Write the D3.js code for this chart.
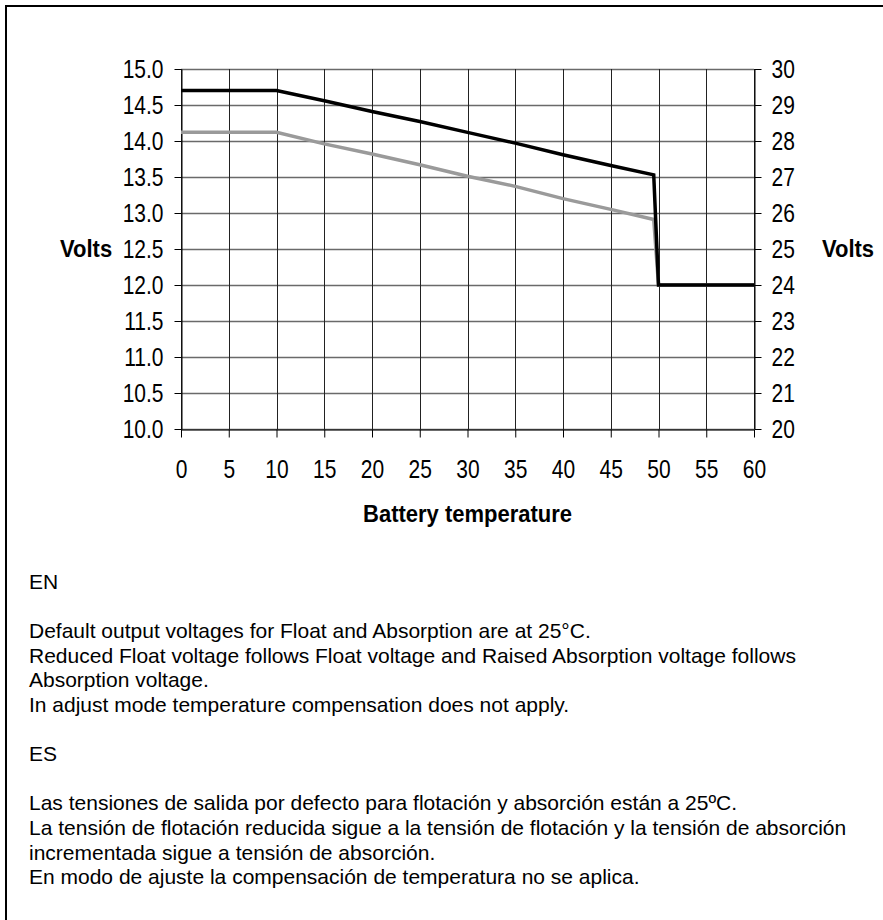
<!DOCTYPE html>
<html>
<head>
<meta charset="utf-8">
<script src="https://cdn.jsdelivr.net/npm/d3@7"></script>
<style>
  body { margin: 0; background: #fff; }
  svg { display: block; font-family: "Liberation Sans", Arial, sans-serif; }
</style>
</head>
<body>
<script>
// Battery temperature (°C) and charge voltages
const absorptionTemps = [0, 5, 10, 15, 20, 25, 30, 35, 40, 45, 49.5, 50, 55, 60];
const absorptionVolts = [14.70, 14.70, 14.70, 14.56, 14.41, 14.27, 14.12, 13.97, 13.81, 13.66, 13.53, 12.0, 12.0, 12.0];

const floatTemps = [0, 5, 10, 15, 20, 25, 30, 35, 40, 45, 49.5, 50, 55, 60];
const floatVolts = [14.12, 14.12, 14.12, 13.96, 13.82, 13.67, 13.51, 13.37, 13.20, 13.05, 12.91, 12.0, 12.0, 12.0];

const xTicks = [0, 5, 10, 15, 20, 25, 30, 35, 40, 45, 50, 55, 60];
const leftTicks = [10.0, 10.5, 11.0, 11.5, 12.0, 12.5, 13.0, 13.5, 14.0, 14.5, 15.0];
const rightTicks = [20, 21, 22, 23, 24, 25, 26, 27, 28, 29, 30];

const notesEN = [
  "EN",
  "",
  "Default output voltages for Float and Absorption are at 25°C.",
  "Reduced Float voltage follows Float voltage and Raised Absorption voltage follows",
  "Absorption voltage.",
  "In adjust mode temperature compensation does not apply."
];
const notesES = [
  "ES",
  "",
  "Las tensiones de salida por defecto para flotación y absorción están a 25ºC.",
  "La tensión de flotación reducida sigue a la tensión de flotación y la tensión de absorción",
  "incrementada sigue a tensión de absorción.",
  "En modo de ajuste la compensación de temperatura no se aplica."
];

const width = 883, height = 920;
const plot = { left: 181, right: 754, top: 69, bottom: 429 };
const stretch = 1.22;   // chart lettering is taller than it is wide

const svg = d3.select("body").append("svg")
  .attr("width", width)
  .attr("height", height);

// outer frame (runs off the right and bottom edge)
svg.append("rect")
  .attr("x", 6).attr("y", 6)
  .attr("width", 900).attr("height", 940)
  .attr("fill", "none")
  .attr("stroke", "#000")
  .attr("stroke-width", 2);

const x = d3.scaleLinear().domain([0, 60]).range([plot.left, plot.right]);
const yLeft = d3.scaleLinear().domain([10, 15]).range([plot.bottom, plot.top]);
const yRight = d3.scaleLinear().domain([20, 30]).range([plot.bottom, plot.top]);

// grid
svg.append("g")
  .selectAll("line")
  .data(leftTicks)
  .join("line")
  .attr("x1", plot.left).attr("x2", plot.right)
  .attr("y1", d => Math.round(yLeft(d)) + 0.5)
  .attr("y2", d => Math.round(yLeft(d)) + 0.5)
  .attr("stroke", "#6a6a6a")
  .attr("stroke-width", 1.3);

svg.append("g")
  .selectAll("line")
  .data(xTicks)
  .join("line")
  .attr("x1", d => Math.round(x(d)) + 0.5)
  .attr("x2", d => Math.round(x(d)) + 0.5)
  .attr("y1", plot.top).attr("y2", plot.bottom)
  .attr("stroke", "#222")
  .attr("stroke-width", 1);

// axes
const tickFont = g => g.selectAll("text")
  .attr("font-size", 21)
  .attr("fill", "#000")
  .attr("font-family", "'Liberation Sans', Arial, sans-serif")
  .attr("transform", `scale(1,${stretch})`);

svg.append("g")
  .attr("transform", `translate(${plot.left + 0.5},0)`)
  .call(d3.axisLeft(yLeft).tickValues(leftTicks).tickFormat(d3.format(".1f"))
    .tickSize(7).tickPadding(11).tickSizeOuter(0))
  .call(g => g.selectAll("path, line").attr("stroke", "#000"))
  .call(tickFont);

svg.append("g")
  .attr("transform", `translate(${plot.right + 0.5},0)`)
  .call(d3.axisRight(yRight).tickValues(rightTicks).tickFormat(d3.format("d"))
    .tickSize(7).tickPadding(10).tickSizeOuter(0))
  .call(g => g.selectAll("path, line").attr("stroke", "#000"))
  .call(tickFont);

svg.append("g")
  .attr("transform", `translate(0,${plot.bottom + 0.5})`)
  .call(d3.axisBottom(x).tickValues(xTicks).tickFormat(d3.format("d"))
    .tickSize(8).tickSizeOuter(0))
  .call(g => g.selectAll("path, line").attr("stroke", "#000"))
  .call(tickFont)
  .call(g => g.selectAll("text").attr("y", 48.5 / stretch).attr("dy", 0));

// lines
const line = d3.line()
  .x(d => x(d[0]))
  .y(d => yLeft(d[1]));

svg.append("path")
  .datum(d3.zip(floatTemps, floatVolts))
  .attr("fill", "none")
  .attr("stroke", "#9a9a9a")
  .attr("stroke-width", 3.5)
  .attr("d", line);

svg.append("path")
  .datum(d3.zip(absorptionTemps, absorptionVolts))
  .attr("fill", "none")
  .attr("stroke", "#000")
  .attr("stroke-width", 3.5)
  .attr("d", line);

// axis titles, stretched a little around their baseline
const title = (tx, ty, anchor, label) => svg.append("text")
  .attr("x", tx)
  .attr("y", ty / 1.1)
  .attr("transform", "scale(1,1.1)")
  .attr("text-anchor", anchor)
  .attr("font-size", 22)
  .attr("font-weight", "bold")
  .text(label);

title((plot.left + plot.right) / 2, 522, "middle", "Battery temperature");
title(60, 257, "start", "Volts");
title(822, 257, "start", "Volts");

// notes
const lineH = 24.6;
const notes = notesEN.concat([""], notesES);
svg.append("g")
  .selectAll("text")
  .data(notes)
  .join("text")
  .attr("x", 29)
  .attr("y", (d, i) => 589 + i * lineH)
  .attr("font-size", 21)
  .attr("fill", "#000")
  .text(d => d);
</script>
</body>
</html>
